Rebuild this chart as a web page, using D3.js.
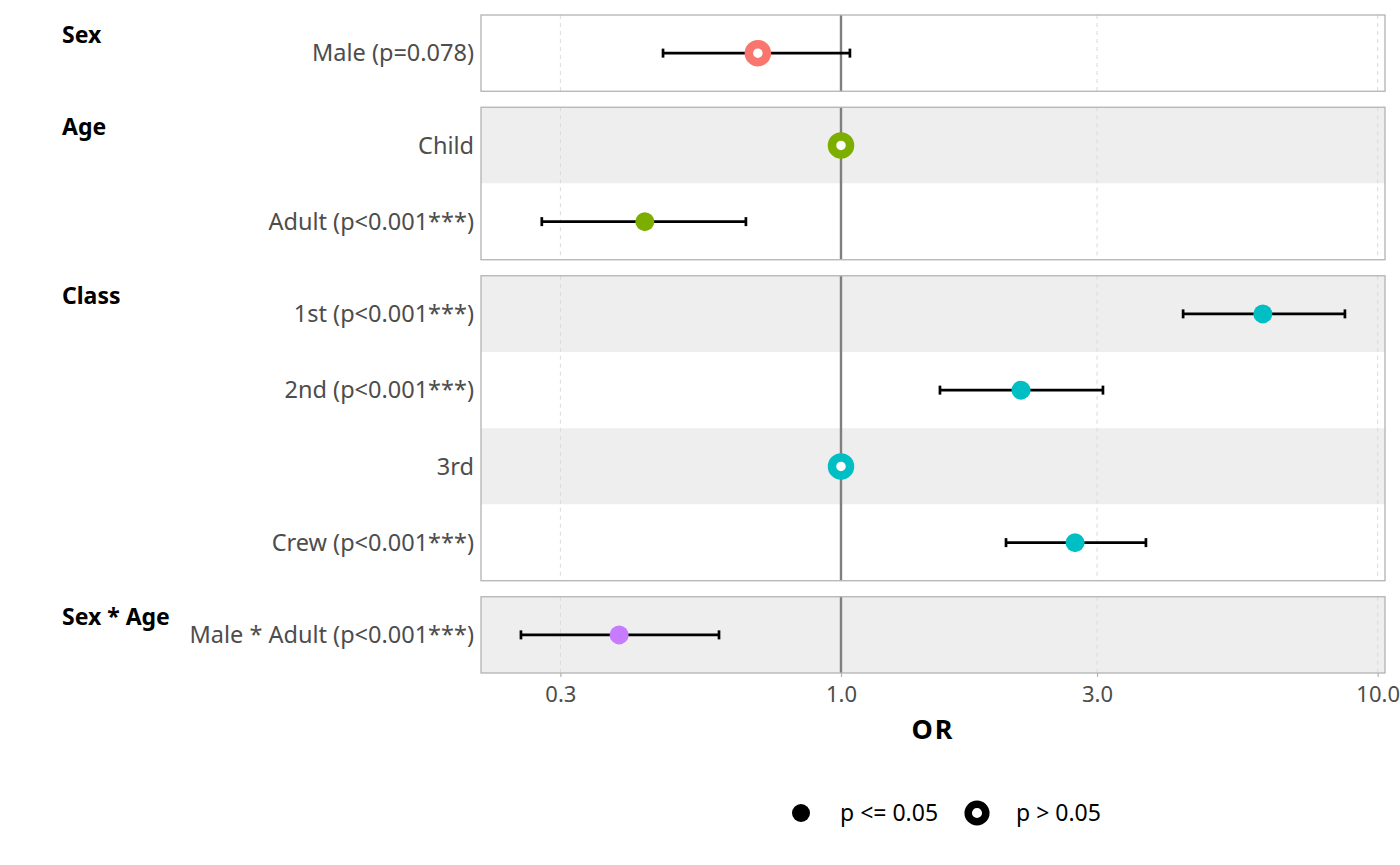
<!DOCTYPE html>
<html>
<head>
<meta charset="utf-8">
<script src="https://cdn.jsdelivr.net/npm/d3@7"></script>
<style>
  body { margin: 0; background: #fff; }
  svg { font-family: "Noto Sans", "Open Sans", sans-serif; }
</style>
</head>
<body>
<svg id="chart" width="1400" height="865"></svg>
<script>
// groups (facets) and their rows
const groups = ["Sex", "Age", "Class", "Sex * Age"];
const groupColors = ["#F8766D", "#7CAE00", "#00BFC4", "#C77CFF"];

const rowGroup = ["Sex", "Age", "Age", "Class", "Class", "Class", "Class", "Sex * Age"];
const rowLabels = ["Male (p=0.078)", "Child", "Adult (p<0.001***)", "1st (p<0.001***)",
  "2nd (p<0.001***)", "3rd", "Crew (p<0.001***)", "Male * Adult (p<0.001***)"];
const orValues = [0.70, 1.0, 0.431, 6.11, 2.165, 1.0, 2.73, 0.386];
const ciLow = [0.466, null, 0.277, 4.34, 1.529, null, 2.03, 0.2533];
const ciHigh = [1.039, null, 0.665, 8.69, 3.077, null, 3.70, 0.5925];
const significant = [false, false, true, true, true, false, true, true];

const xTicks = [0.3, 1.0, 3.0, 10.0];
const xDomain = [0.2134, 10.32];

const svg = d3.select("#chart");

const x = d3.scaleLog().domain(xDomain).range([481, 1385]);

// panel layout
const rowH = 76.25, gap = 16, top0 = 15;
const panels = [];
let yTop = top0;
groups.forEach((g, gi) => {
  const n = rowGroup.filter(r => r === g).length;
  panels.push({ name: g, top: yTop, h: n * rowH, color: groupColors[gi] });
  yTop += n * rowH + gap;
});

// row positions
const rows = rowLabels.map((lab, i) => {
  const p = panels.find(d => d.name === rowGroup[i]);
  const k = rowGroup.slice(0, i).filter(r => r === rowGroup[i]).length;
  return { i, lab, panel: p, top: p.top + k * rowH, cy: p.top + k * rowH + rowH / 2 };
});

// row stripes
svg.selectAll("rect.stripe")
  .data(rows)
  .join("rect")
  .attr("x", x.range()[0])
  .attr("width", x.range()[1] - x.range()[0])
  .attr("y", d => d.top)
  .attr("height", rowH)
  .attr("fill", d => d.i % 2 === 1 ? "#EEEEEE" : "#FFFFFF");

// gridlines and reference line per panel
panels.forEach(p => {
  const g = svg.append("g");
  g.selectAll("line.grid")
    .data(xTicks.filter(t => t !== 1))
    .join("line")
    .attr("x1", d => x(d)).attr("x2", d => x(d))
    .attr("y1", p.top).attr("y2", p.top + p.h)
    .attr("stroke", "#DADADA")
    .attr("stroke-width", 1)
    .attr("stroke-dasharray", "4,4");
  g.append("line")
    .attr("x1", x(1)).attr("x2", x(1))
    .attr("y1", p.top).attr("y2", p.top + p.h)
    .attr("stroke", "#7F7F7F")
    .attr("stroke-width", 2.4);
  g.append("rect")
    .attr("x", x.range()[0]).attr("y", p.top)
    .attr("width", x.range()[1] - x.range()[0]).attr("height", p.h)
    .attr("fill", "none")
    .attr("stroke", "#B3B3B3")
    .attr("stroke-width", 1.3);
  svg.append("text")
    .attr("x", 62).attr("y", p.top + 20)
    .attr("dy", "0.35em")
    .attr("font-size", 23).attr("font-weight", "bold")
    .attr("fill", "#000")
    .text(p.name);
});

// row labels
svg.selectAll("text.rowlab")
  .data(rows)
  .join("text")
  .attr("x", 474)
  .attr("y", d => d.cy)
  .attr("dy", "0.35em")
  .attr("text-anchor", "end")
  .attr("font-size", 23.5)
  .attr("fill", "#4D4D4D")
  .text(d => d.lab);

// error bars
const eb = rows.filter(d => ciLow[d.i] != null);
const ebG = svg.append("g").attr("stroke", "#000").attr("stroke-width", 2.7);
ebG.selectAll("line.ci")
  .data(eb).join("line")
  .attr("x1", d => x(ciLow[d.i])).attr("x2", d => x(ciHigh[d.i]))
  .attr("y1", d => d.cy).attr("y2", d => d.cy);
ebG.selectAll("line.capl")
  .data(eb).join("line")
  .attr("x1", d => x(ciLow[d.i])).attr("x2", d => x(ciLow[d.i]))
  .attr("y1", d => d.cy - 4.5).attr("y2", d => d.cy + 4.5);
ebG.selectAll("line.caph")
  .data(eb).join("line")
  .attr("x1", d => x(ciHigh[d.i])).attr("x2", d => x(ciHigh[d.i]))
  .attr("y1", d => d.cy - 4.5).attr("y2", d => d.cy + 4.5);

// points
rows.forEach(d => {
  if (significant[d.i]) {
    svg.append("circle")
      .attr("cx", x(orValues[d.i])).attr("cy", d.cy).attr("r", 9.5)
      .attr("fill", d.panel.color);
  } else {
    svg.append("circle")
      .attr("cx", x(orValues[d.i])).attr("cy", d.cy).attr("r", 9)
      .attr("fill", "#fff")
      .attr("stroke", d.panel.color)
      .attr("stroke-width", 8.5);
  }
});

// x axis
const lastP = panels[panels.length - 1];
const axisY = lastP.top + lastP.h;
const ax = svg.append("g").attr("transform", `translate(0,${axisY})`)
  .call(d3.axisBottom(x).tickValues(xTicks).tickFormat(d3.format(".1f")).tickSize(4).tickPadding(9));
ax.select(".domain").remove();
ax.selectAll(".tick line").attr("stroke", "#B3B3B3").attr("stroke-width", 1.2);
ax.selectAll(".tick text").attr("font-size", 22).attr("fill", "#4D4D4D")
  .attr("font-family", "Noto Sans, Open Sans, sans-serif");

svg.append("text")
  .attr("x", (x.range()[0] + x.range()[1]) / 2)
  .attr("y", 730).attr("dy", "0.35em")
  .attr("text-anchor", "middle")
  .attr("font-size", 27).attr("font-weight", "bold")
  .attr("letter-spacing", 2)
  .text("OR");

// legend
const legendItems = ["p <= 0.05", "p > 0.05"];
const legX = [801, 977];
const lg = svg.append("g");
legendItems.forEach((t, i) => {
  if (i === 0) {
    lg.append("circle").attr("cx", legX[i]).attr("cy", 813).attr("r", 9).attr("fill", "#000");
  } else {
    lg.append("circle").attr("cx", legX[i]).attr("cy", 813).attr("r", 8.8)
      .attr("fill", "#fff").attr("stroke", "#000").attr("stroke-width", 7.5);
  }
  lg.append("text")
    .attr("x", legX[i] + 39).attr("y", 813).attr("dy", "0.35em")
    .attr("font-size", 23).attr("fill", "#000")
    .text(t);
});
</script>
</body>
</html>
